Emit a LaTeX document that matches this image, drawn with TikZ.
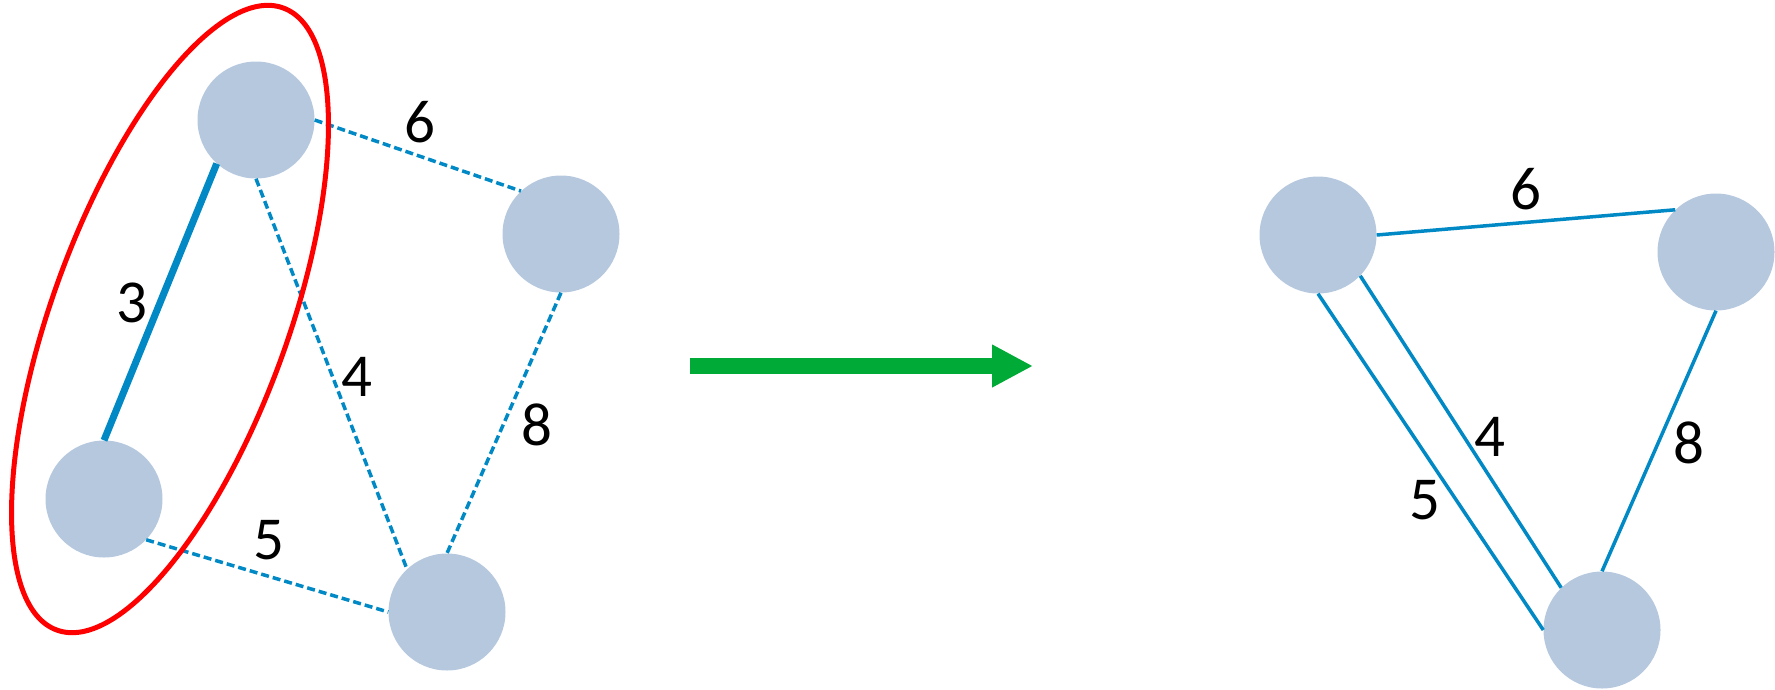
\documentclass[tikz,border=0pt]{standalone}
\usepackage{fontspec}
\setmainfont{Carlito}
\usepackage{xcolor}
\usetikzlibrary{arrows.meta, shapes.geometric}

\definecolor{nodefill}{RGB}{182,200,222}
\definecolor{edgeblue}{RGB}{0,137,196}
\definecolor{arrowgreen}{RGB}{0,170,54}

\begin{document}
\begin{tikzpicture}[
	x=1pt, y=-1pt,
	vertex/.style={circle, fill=nodefill, minimum size=117pt, inner sep=0pt},
	weight/.style={font=\fontsize{61}{61}\selectfont, inner sep=0pt},
	chosen/.style={draw=edgeblue, line width=7pt},
	cand/.style={draw=edgeblue, line width=3.5pt, dash pattern=on 8pt off 4pt},
	link/.style={draw=edgeblue, line width=3.5pt},
	group/.style={draw=red, line width=5pt, ellipse, minimum width=662pt, minimum height=236pt, inner sep=0pt, rotate=70}
	]
	
	\useasboundingbox (0,0) rectangle (1775,689);
	
	% Left graph
	\node[vertex] (A) at (256,120) {};
	\node[vertex] (B) at (104,499) {};
	\node[vertex] (C) at (561,234) {};
	\node[vertex] (D) at (447,612) {};
	
	\path[chosen] (B.north) -- (A.228);
	\path[cand] (A.east) -- (C.133);
	\path[cand] (A.south) -- (D.133);
	\path[cand] (B.316) -- (D.west);
	\path[cand] (C.south) -- (D.north);
	
	\node[weight] (l6) at (420,122) {6};
	\node[weight] (l3) at (132,303) {3};
	\node[weight] (l4) at (357,377) {4};
	\node[weight] (l8) at (537,425) {8};
	\node[weight] (l5) at (269,540) {5};
	
	% Contracted pair
	\node[group] (AB) at (170,319) {};
	
	% Arrow
	\coordinate (from) at (690,366);
	\coordinate (to) at (1033,366);
	\draw[arrowgreen, line width=16pt, -{Triangle[length=41pt, width=40pt]}] (from) -- (to);
	
	% Right graph
	\node[vertex] (E) at (1318,235) {};
	\node[vertex] (F) at (1716,252) {};
	\node[vertex] (G) at (1602,630) {};
	
	\path[link] (E.east) -- (F.134);
	\path[link] (E.south) -- (G.west);
	\path[link] (E.316) -- (G.134);
	\path[link] (F.south) -- (G.north);
	
	\node[weight] (r6) at (1526,189) {6};
	\node[weight] (r4) at (1490,437) {4};
	\node[weight] (r5) at (1425,500) {5};
	\node[weight] (r8) at (1689,443) {8};
	
\end{tikzpicture}
\end{document}
